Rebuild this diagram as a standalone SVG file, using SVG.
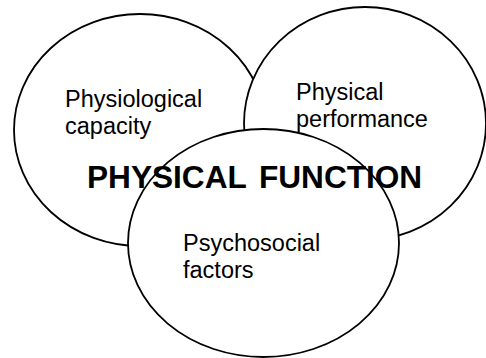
<svg xmlns="http://www.w3.org/2000/svg" width="486" height="358" viewBox="0 0 486 358">
  <style>
    .bubble { fill: #ffffff; stroke: #000000; stroke-width: 1.8; }
    .label { font-family: "Liberation Sans", Arial, sans-serif; font-size: 23.5px; fill: #000000; }
    .title { font-family: "Liberation Sans", Arial, sans-serif; font-size: 31.6px; font-weight: bold; fill: #000000; }
  </style>
  <rect width="486" height="358" fill="#ffffff"/>
  <g id="connectors"/>
  <g id="node-physiological-capacity">
    <ellipse class="bubble" cx="140" cy="130" rx="126" ry="116"/>
    <text class="label" x="65" y="107">Physiological</text>
    <text class="label" x="65" y="134">capacity</text>
  </g>
  <g id="node-physical-performance">
    <ellipse class="bubble" cx="365" cy="123.5" rx="121" ry="116.5"/>
    <text class="label" x="296" y="100">Physical</text>
    <text class="label" x="296" y="127">performance</text>
  </g>
  <g id="node-psychosocial-factors">
    <ellipse class="bubble" cx="263.5" cy="243" rx="135.5" ry="114"/>
    <text class="label" x="183" y="251">Psychosocial</text>
    <text class="label" x="183" y="278">factors</text>
  </g>
  <g id="node-physical-function">
    <text class="title" x="87" y="188" word-spacing="4">PHYSICAL FUNCTION</text>
  </g>
</svg>
